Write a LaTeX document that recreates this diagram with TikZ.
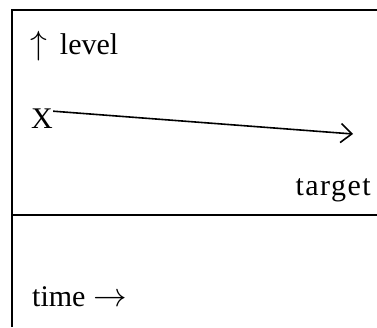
\documentclass[tikz,border=0pt]{standalone}
\usepackage{fontspec}
\usepackage{graphicx}
\setmainfont{Liberation Serif}
\usetikzlibrary{arrows.meta}
\newcommand{\bigarr}[1]{\raisebox{0pt}{\scalebox{1.35}{$#1$}}}
\begin{document}
\begin{tikzpicture}[x=1pt,y=-1pt,
  lbl/.style={inner sep=0pt,font=\fontsize{30}{36}\selectfont},
  frame/.style={line width=1.3pt},
  conn/.style={line width=1.6pt,-{Straight Barb[length=11pt,width=19pt,line width=1.6pt]}}]
\useasboundingbox (0,0) rectangle (377,327);
\coordinate (tl) at (12,10);
\coordinate (tr) at (377,10);
\coordinate (bl) at (12,327);
\coordinate (ml) at (12,215);
\coordinate (mr) at (377,215);
\draw[frame] (bl) -- (tl) -- (tr);
\draw[frame] (ml) -- (mr);
\node[lbl,anchor=base west] (level) at (30,54) {\bigarr{\uparrow}\hspace{13pt}level};
\node[lbl,anchor=base west] (x) at (31,128) {X};
\coordinate (tip) at (353,134);
\draw[conn] (x.east) ++(0,-7) coordinate (xs) (xs) -- (tip);
\node[lbl,anchor=base east] (target) at (371,195) {\addfontfeature{LetterSpace=5}target};
\node[lbl,anchor=base west] (time) at (32,306) {time \bigarr{\rightarrow}};
\end{tikzpicture}
\end{document}
